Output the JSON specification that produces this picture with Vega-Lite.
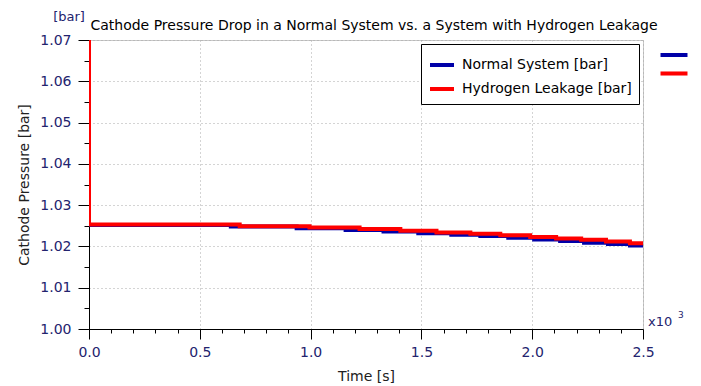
{
  "$schema": "https://vega.github.io/schema/vega-lite/v6.json",
  "width": 554,
  "height": 289,
  "autosize": {"type": "none"},
  "padding": {"left": 89, "top": 40, "right": 58, "bottom": 57},
  "background": "white",
  "config": {
    "font": "DejaVu Sans",
    "view": {"stroke": "#c8c8c8", "strokeWidth": 1}
  },
  "title": {
    "text": "Cathode Pressure Drop in a Normal System vs. a System with Hydrogen Leakage",
    "font": "DejaVu Sans",
    "fontSize": 14,
    "fontWeight": "normal",
    "color": "#000000",
    "anchor": "middle",
    "frame": "group",
    "baseline": "alphabetic",
    "offset": -33,
    "dx": 8
  },
  "data": {
    "values": [
      {"t": 0, "v": 1.07, "series": "Normal System [bar]"},
      {"t": 0, "v": 1.0252, "series": "Normal System [bar]"},
      {"t": 640, "v": 1.0248, "series": "Normal System [bar]"},
      {"t": 937, "v": 1.0244, "series": "Normal System [bar]"},
      {"t": 1158, "v": 1.0240, "series": "Normal System [bar]"},
      {"t": 1329, "v": 1.0236, "series": "Normal System [bar]"},
      {"t": 1486, "v": 1.0232, "series": "Normal System [bar]"},
      {"t": 1635, "v": 1.0228, "series": "Normal System [bar]"},
      {"t": 1766, "v": 1.0225, "series": "Normal System [bar]"},
      {"t": 1892, "v": 1.0221, "series": "Normal System [bar]"},
      {"t": 2009, "v": 1.0217, "series": "Normal System [bar]"},
      {"t": 2126, "v": 1.0213, "series": "Normal System [bar]"},
      {"t": 2234, "v": 1.0209, "series": "Normal System [bar]"},
      {"t": 2342, "v": 1.0206, "series": "Normal System [bar]"},
      {"t": 2441, "v": 1.0202, "series": "Normal System [bar]"},
      {"t": 2500, "v": 1.0202, "series": "Normal System [bar]"},
      {"t": 0, "v": 1.07, "series": "Hydrogen Leakage [bar]"},
      {"t": 0, "v": 1.0253, "series": "Hydrogen Leakage [bar]"},
      {"t": 680, "v": 1.0249, "series": "Hydrogen Leakage [bar]"},
      {"t": 995, "v": 1.0246, "series": "Hydrogen Leakage [bar]"},
      {"t": 1221, "v": 1.0242, "series": "Hydrogen Leakage [bar]"},
      {"t": 1405, "v": 1.0238, "series": "Hydrogen Leakage [bar]"},
      {"t": 1568, "v": 1.0234, "series": "Hydrogen Leakage [bar]"},
      {"t": 1721, "v": 1.0231, "series": "Hydrogen Leakage [bar]"},
      {"t": 1856, "v": 1.0227, "series": "Hydrogen Leakage [bar]"},
      {"t": 1991, "v": 1.0223, "series": "Hydrogen Leakage [bar]"},
      {"t": 2108, "v": 1.0219, "series": "Hydrogen Leakage [bar]"},
      {"t": 2221, "v": 1.0216, "series": "Hydrogen Leakage [bar]"},
      {"t": 2333, "v": 1.0212, "series": "Hydrogen Leakage [bar]"},
      {"t": 2441, "v": 1.0208, "series": "Hydrogen Leakage [bar]"},
      {"t": 2500, "v": 1.0208, "series": "Hydrogen Leakage [bar]"}
    ]
  },
  "layer": [
    {
      "mark": {"type": "line", "interpolate": "step-after", "strokeWidth": 4, "clip": true},
      "encoding": {
        "x": {
          "field": "t", "type": "quantitative",
          "scale": {"domain": [0, 2500], "nice": false, "zero": false},
          "axis": {
            "values": [0,100,200,300,400,500,600,700,800,900,1000,1100,1200,1300,1400,1500,1600,1700,1800,1900,2000,2100,2200,2300,2400,2500],
            "tickCount": 200,
            "labelExpr": "datum.value % 500 == 0 ? format(datum.value/1000, '.1f') : ''",
            "labelFont": "DejaVu Sans",
            "labelFontSize": 14,
            "labelColor": "#23236e",
            "labelPadding": 6,
            "labelFlush": false,
            "labelOverlap": false,
            "tickColor": "#000000",
            "tickSize": {"condition": {"test": "datum.value % 500 != 0", "value": 4}, "value": 10},
            "domainColor": "#000000",
            "domainWidth": 1,
            "grid": true,
            "gridColor": "#a8a8a8",
            "gridDash": [1, 3],
            "gridOpacity": {"condition": {"test": "datum.value % 500 != 0", "value": 0}, "value": 1},
            "title": "Time [s]",
            "titleFont": "DejaVu Sans",
            "titleFontSize": 14,
            "titleFontWeight": "normal",
            "titleColor": "#202020",
            "titlePadding": 10
          }
        },
        "y": {
          "field": "v", "type": "quantitative",
          "scale": {"domain": [1.0, 1.07], "nice": false, "zero": false},
          "axis": {
            "values": [1.0,1.005,1.01,1.015,1.02,1.025,1.03,1.035,1.04,1.045,1.05,1.055,1.06,1.065,1.07],
            "tickCount": 200,
            "labelExpr": "round(datum.value*1000) % 10 == 0 ? format(datum.value, '.2f') : ''",
            "labelFont": "DejaVu Sans",
            "labelFontSize": 14,
            "labelColor": "#23236e",
            "labelPadding": 7,
            "labelFlush": false,
            "labelOverlap": false,
            "tickColor": "#000000",
            "tickSize": {"condition": {"test": "round(datum.value*1000) % 10 != 0", "value": 5}, "value": 11},
            "domainColor": "#000000",
            "domainWidth": 1,
            "grid": true,
            "gridColor": "#a8a8a8",
            "gridDash": [1, 3],
            "gridOpacity": {"condition": {"test": "round(datum.value*1000) % 10 != 0", "value": 0}, "value": 1},
            "title": "Cathode Pressure [bar]",
            "titleFont": "DejaVu Sans",
            "titleFontSize": 14,
            "titleFontWeight": "normal",
            "titleColor": "#202020",
            "titlePadding": 8
          }
        },
        "stroke": {
          "field": "series", "type": "nominal",
          "scale": {"domain": ["Normal System [bar]", "Hydrogen Leakage [bar]"], "range": ["#0000a8", "#ff0000"]},
          "legend": {
            "orient": "top-right",
            "offset": 4,
            "title": null,
            "padding": 7,
            "strokeColor": "#000000",
            "fillColor": "#ffffff",
            "symbolType": "stroke",
            "symbolSize": 576,
            "symbolStrokeWidth": 4,
            "labelFont": "DejaVu Sans",
            "labelFontSize": 14,
            "labelColor": "#000000",
            "labelOffset": 6,
            "labelLimit": 400,
            "rowPadding": 2
          }
        },
        "order": [{"field": "t", "type": "quantitative"}, {"field": "v", "type": "quantitative", "sort": "descending"}]
      }
    },
    {
      "mark": {"type": "point", "opacity": 0, "filled": true},
      "encoding": {
        "x": {"field": "t", "type": "quantitative"},
        "y": {"field": "v", "type": "quantitative"},
        "fill": {
          "field": "series", "type": "nominal",
          "scale": {"domain": ["Normal System [bar]", "Hydrogen Leakage [bar]"], "range": ["#0000a8", "#ff0000"]},
          "legend": {
            "orient": "none",
            "legendX": 578,
            "legendY": 8,
            "title": null,
            "padding": 0,
            "symbolType": "M-2,-0.3H2V0.3H-2Z",
            "symbolSize": 182,
            "symbolOpacity": 1,
            "symbolStrokeWidth": 0,
            "labelExpr": "''",
            "labelFontSize": 1,
            "labelOffset": 0,
            "rowPadding": 8.5
          }
        }
      }
    },
    {
      "data": {"values": [{}]},
      "mark": {"type": "text", "text": "[bar]", "font": "DejaVu Sans", "fontSize": 13, "fontWeight": "normal", "color": "#23236e", "align": "center", "baseline": "middle", "dx": -20, "dy": -23, "clip": false},
      "encoding": {"x": {"datum": 0}, "y": {"datum": 1.07}}
    },
    {
      "data": {"values": [{}]},
      "mark": {"type": "text", "text": "x10", "font": "DejaVu Sans", "fontSize": 13, "fontWeight": "normal", "color": "#23236e", "align": "left", "baseline": "middle", "dx": 5, "dy": -7, "clip": false},
      "encoding": {"x": {"datum": 2500}, "y": {"datum": 1.0}}
    },
    {
      "data": {"values": [{}]},
      "mark": {"type": "text", "text": "3", "font": "DejaVu Sans", "fontSize": 9, "fontWeight": "normal", "color": "#23236e", "align": "left", "baseline": "middle", "dx": 35, "dy": -14, "clip": false},
      "encoding": {"x": {"datum": 2500}, "y": {"datum": 1.0}}
    }
  ]
}
